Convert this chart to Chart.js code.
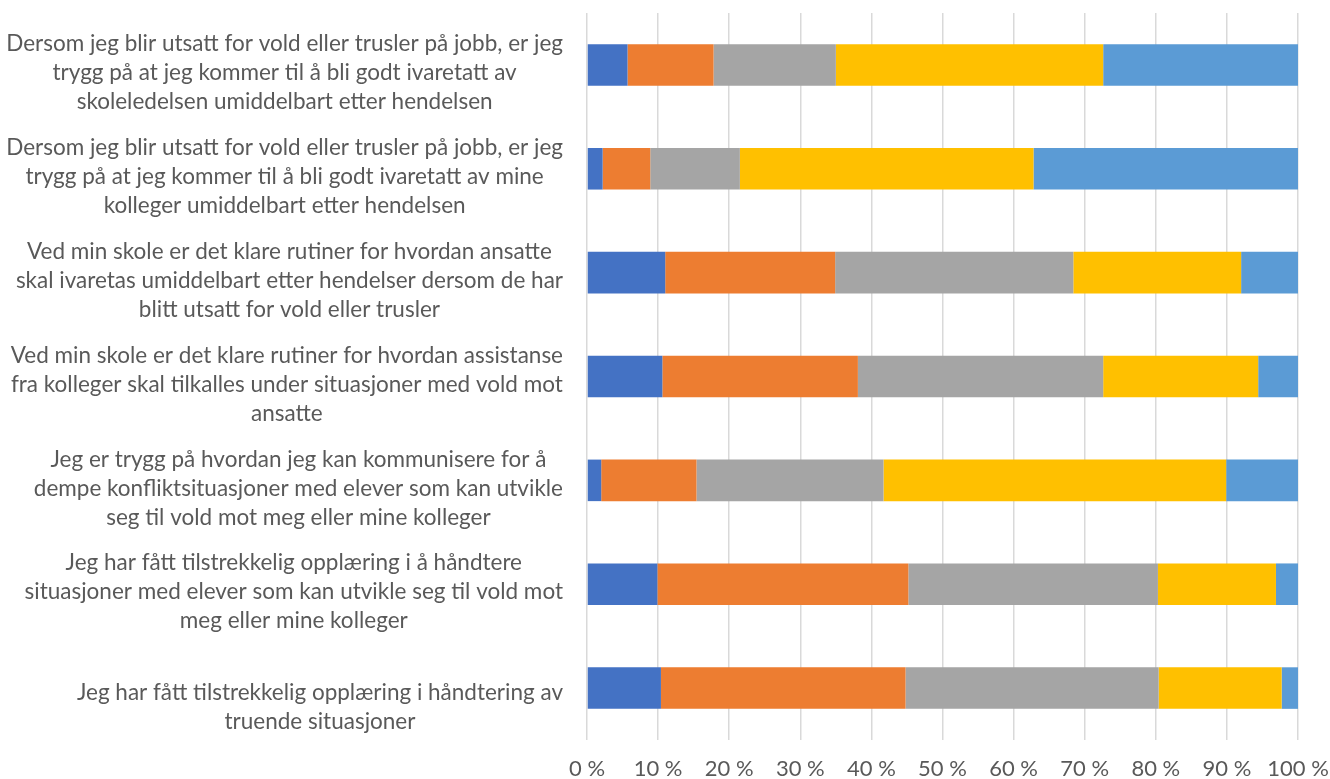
<!DOCTYPE html>
<html>
<head>
<meta charset="utf-8">
<script src="https://cdn.jsdelivr.net/npm/chart.js@4.4.1/dist/chart.umd.min.js"></script>
<style>
  body { margin: 0; background: #ffffff; }
  #wrap { width: 1330px; height: 779px; }
</style>
</head>
<body>
<div id="wrap"><canvas id="voldChart" width="1330" height="779"></canvas></div>
<script>
// statements (y categories), top to bottom
var categories = [
	["Dersom jeg blir utsatt for vold eller trusler på jobb, er jeg", "trygg på at jeg kommer til å bli godt ivaretatt av", "skoleledelsen umiddelbart etter hendelsen"],
	["Dersom jeg blir utsatt for vold eller trusler på jobb, er jeg", "trygg på at jeg kommer til å bli godt ivaretatt av mine", "kolleger umiddelbart etter hendelsen"],
	["Ved min skole er det klare rutiner for hvordan ansatte", "skal ivaretas umiddelbart etter hendelser dersom de har", "blitt utsatt for vold eller trusler"],
	["Ved min skole er det klare rutiner for hvordan assistanse", "fra kolleger skal tilkalles under situasjoner med vold mot", "ansatte"],
	["Jeg er trygg på hvordan jeg kan kommunisere for å", "dempe konfliktsituasjoner med elever som kan utvikle", "seg til vold mot meg eller mine kolleger"],
	["Jeg har fått tilstrekkelig opplæring i å håndtere", "situasjoner med elever som kan utvikle seg til vold mot", "meg eller mine kolleger"],
	["Jeg har fått tilstrekkelig opplæring i håndtering av", "truende situasjoner"]
];

// answer shares in percent, one array per answer option
var seriesNames = ["Helt uenig", "Litt uenig", "Verken enig eller uenig", "Litt enig", "Helt enig"];
var heltUenig   = [5.7, 2.2, 11.0, 10.6, 2.0, 9.9, 10.4];
var littUenig   = [12.1, 6.7, 23.9, 27.5, 13.4, 35.3, 34.4];
var verken      = [17.2, 12.6, 33.5, 34.5, 26.3, 35.1, 35.6];
var littEnig    = [37.6, 41.3, 23.6, 21.8, 48.2, 16.6, 17.3];
var heltEnig    = [27.4, 37.2, 8.0, 5.6, 10.1, 3.1, 2.3];

var xTicks = [0, 10, 20, 30, 40, 50, 60, 70, 80, 90, 100];

var colors = ["#4472C4", "#ED7D31", "#A5A5A5", "#FFC000", "#5B9BD5"];
var values = [heltUenig, littUenig, verken, littEnig, heltEnig];

var datasets = [];
for (var i = 0; i < seriesNames.length; i++) {
	datasets.push({
		label: seriesNames[i],
		data: values[i],
		backgroundColor: colors[i],
		borderWidth: 0,
		barPercentage: 0.8,
		categoryPercentage: 0.5
	});
}

// Excel-style labels: each block right-aligned, lines centred in the block,
// and sitting a bit below the bar centre
var labelShift = {
	id: "labelShift",
	beforeDraw: function(chart) {
		var yScale = chart.scales.y;
		var rightEdge = yScale.right - yScale.options.ticks.padding;
		var c = chart.ctx;
		var items = yScale.getLabelItems();
		items.forEach(function(item) {
			if (item.shifted) return;
			var lines = Array.isArray(item.label) ? item.label : [item.label];
			c.save();
			c.font = item.font.string;
			var widest = 0;
			lines.forEach(function(l) { widest = Math.max(widest, c.measureText(l).width); });
			c.restore();
			item.options.translation[0] = rightEdge - widest / 2;
			item.options.translation[1] += (lines.length == 2) ? 19 : 8;
			item.shifted = true;
		});
	}
};

var ctx = document.getElementById("voldChart");
var myChart = new Chart(ctx, {
	type: "bar",
	data: { labels: categories, datasets: datasets },
	plugins: [labelShift],
	options: {
		indexAxis: "y",
		responsive: false,
		animation: false,
		layout: { padding: { top: 13, right: 32, bottom: 0, left: 0 } },
		plugins: {
			legend: { display: false },
			tooltip: { enabled: false }
		},
		scales: {
			x: {
				stacked: true,
				min: 0,
				max: 100,
				afterBuildTicks: function(scale) {
					scale.ticks = xTicks.map(function(v) { return { value: v }; });
				},
				afterFit: function(scale) {
					scale.height = 39;
					scale.paddingLeft = 0;
					scale.paddingRight = 0;
				},
				grid: { color: "#d9d9d9", lineWidth: 1.5, drawTicks: false },
				border: { display: false },
				ticks: {
					color: "#595959",
					font: { family: "Lato", size: 22 },
					padding: 16,
					callback: function(v) { return v + " %"; }
				}
			},
			y: {
				stacked: true,
				afterFit: function(scale) {
					scale.width = 587;
					scale.paddingTop = 0;
					scale.paddingBottom = 0;
				},
				grid: { display: false, drawTicks: false },
				border: { display: false },
				ticks: {
					color: "#595959",
					crossAlign: "center",
					padding: 24,
					font: { family: "Lato", size: 22.5, lineHeight: "29px" }
				}
			}
		}
	}
});
</script>
</body>
</html>
